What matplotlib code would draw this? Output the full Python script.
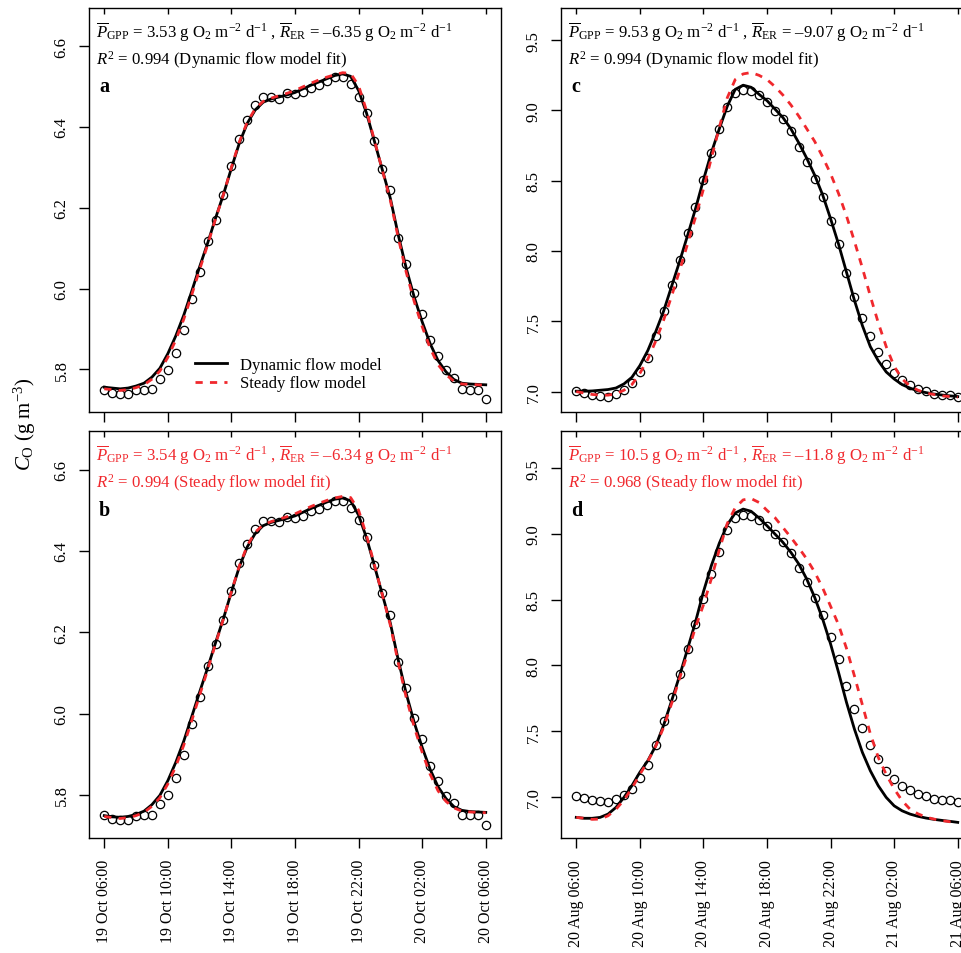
import numpy as np
import matplotlib
matplotlib.use("Agg")
import matplotlib.pyplot as plt
import matplotlib.ticker as ticker

plt.rcParams["font.family"] = "Liberation Serif"
plt.rcParams["mathtext.fontset"] = "custom"
plt.rcParams["mathtext.rm"] = "Liberation Serif"
plt.rcParams["mathtext.it"] = "Liberation Serif:italic"
plt.rcParams["mathtext.bf"] = "Liberation Serif:bold"

RED = "#f0282d"

# half-hourly samples, hours after 06:00 of the first day
hours = np.arange(49) * 0.5

tick_hours = [0, 4, 8, 12, 16, 20, 24]
oct_labels = ["19 Oct 06:00", "19 Oct 10:00", "19 Oct 14:00", "19 Oct 18:00",
              "19 Oct 22:00", "20 Oct 02:00", "20 Oct 06:00"]
aug_labels = ["20 Aug 06:00", "20 Aug 10:00", "20 Aug 14:00", "20 Aug 18:00",
              "20 Aug 22:00", "21 Aug 02:00", "21 Aug 06:00"]

# observed oxygen concentration, October (panels a, b)
obs_oct = [5.750, 5.741, 5.739, 5.739, 5.748, 5.750, 5.751, 5.777, 5.799, 5.841,
           5.898, 5.975, 6.041, 6.117, 6.170, 6.231, 6.302, 6.371, 6.418, 6.455,
           6.473, 6.474, 6.470, 6.484, 6.482, 6.486, 6.497, 6.503, 6.513, 6.523,
           6.523, 6.505, 6.475, 6.434, 6.366, 6.296, 6.243, 6.126, 6.062, 5.990,
           5.937, 5.872, 5.833, 5.798, 5.779, 5.751, 5.750, 5.750, 5.727]

# panel a: parameters from dynamic flow fit
dyn_a = [5.756, 5.754, 5.752, 5.754, 5.759, 5.766, 5.781, 5.803, 5.839, 5.883,
         5.934, 5.993, 6.054, 6.112, 6.174, 6.233, 6.298, 6.360, 6.409, 6.442,
         6.461, 6.469, 6.474, 6.479, 6.485, 6.494, 6.503, 6.511, 6.519, 6.527,
         6.531, 6.525, 6.490, 6.434, 6.364, 6.293, 6.223, 6.132, 6.050, 5.979,
         5.918, 5.864, 5.822, 5.794, 5.775, 5.766, 5.764, 5.763, 5.762]
std_a = [5.752, 5.750, 5.748, 5.750, 5.755, 5.762, 5.776, 5.796, 5.830, 5.873,
         5.924, 5.984, 6.047, 6.108, 6.172, 6.233, 6.300, 6.363, 6.412, 6.445,
         6.463, 6.471, 6.477, 6.483, 6.490, 6.499, 6.508, 6.516, 6.523, 6.529,
         6.534, 6.532, 6.502, 6.440, 6.366, 6.292, 6.218, 6.125, 6.040, 5.968,
         5.906, 5.853, 5.812, 5.787, 5.771, 5.764, 5.763, 5.762, 5.761]

# panel b: parameters from steady flow fit
dyn_b = [5.749, 5.746, 5.745, 5.747, 5.752, 5.760, 5.776, 5.799, 5.835, 5.880,
         5.932, 5.992, 6.053, 6.112, 6.174, 6.234, 6.299, 6.361, 6.410, 6.443,
         6.462, 6.470, 6.475, 6.480, 6.486, 6.495, 6.504, 6.512, 6.520, 6.527,
         6.530, 6.523, 6.488, 6.432, 6.363, 6.292, 6.222, 6.131, 6.049, 5.978,
         5.917, 5.863, 5.820, 5.791, 5.771, 5.762, 5.759, 5.758, 5.757]
std_b = [5.747, 5.744, 5.742, 5.744, 5.749, 5.757, 5.772, 5.793, 5.827, 5.870,
         5.922, 5.982, 6.045, 6.107, 6.171, 6.233, 6.300, 6.363, 6.413, 6.446,
         6.464, 6.472, 6.478, 6.484, 6.491, 6.500, 6.509, 6.517, 6.524, 6.530,
         6.534, 6.531, 6.500, 6.438, 6.365, 6.291, 6.217, 6.124, 6.039, 5.967,
         5.905, 5.851, 5.810, 5.784, 5.768, 5.760, 5.758, 5.757, 5.756]

# observed oxygen concentration, August (panels c, d)
obs_aug = [7.003, 6.989, 6.979, 6.967, 6.960, 6.981, 7.010, 7.062, 7.140, 7.240,
           7.396, 7.574, 7.759, 7.937, 8.127, 8.316, 8.506, 8.695, 8.866, 9.027,
           9.122, 9.146, 9.141, 9.108, 9.058, 8.999, 8.940, 8.854, 8.743, 8.632,
           8.513, 8.383, 8.214, 8.050, 7.844, 7.671, 7.522, 7.394, 7.285, 7.195,
           7.135, 7.085, 7.050, 7.021, 7.003, 6.984, 6.977, 6.974, 6.960]

# panel c: parameters from dynamic flow fit
dyn_c = [7.003, 7.003, 7.005, 7.010, 7.015, 7.026, 7.055, 7.102, 7.185, 7.292,
         7.427, 7.574, 7.750, 7.925, 8.110, 8.300, 8.506, 8.700, 8.870, 9.030,
         9.150, 9.180, 9.165, 9.115, 9.070, 9.010, 8.950, 8.870, 8.770, 8.660,
         8.540, 8.400, 8.230, 8.050, 7.850, 7.650, 7.470, 7.320, 7.220, 7.140,
         7.090, 7.050, 7.025, 7.005, 6.993, 6.983, 6.976, 6.970, 6.965]
std_c = [7.000, 6.990, 6.980, 6.975, 6.975, 6.985, 7.010, 7.050, 7.130, 7.230,
         7.360, 7.510, 7.680, 7.860, 8.050, 8.240, 8.440, 8.660, 8.880, 9.090,
         9.220, 9.260, 9.270, 9.250, 9.220, 9.170, 9.110, 9.040, 8.960, 8.870,
         8.780, 8.670, 8.550, 8.410, 8.250, 8.070, 7.880, 7.680, 7.490, 7.320,
         7.180, 7.090, 7.040, 7.010, 6.990, 6.980, 6.970, 6.965, 6.960]

# panel d: parameters from steady flow fit
dyn_d = [6.843, 6.836, 6.836, 6.843, 6.868, 6.919, 6.995, 7.084, 7.186, 7.274,
         7.388, 7.546, 7.731, 7.921, 8.124, 8.330, 8.560, 8.760, 8.930, 9.070,
         9.160, 9.190, 9.173, 9.122, 9.063, 9.000, 8.937, 8.861, 8.772, 8.657,
         8.518, 8.353, 8.163, 7.947, 7.719, 7.515, 7.338, 7.198, 7.084, 6.995,
         6.931, 6.893, 6.868, 6.851, 6.838, 6.828, 6.820, 6.813, 6.805]
std_d = [6.843, 6.836, 6.828, 6.830, 6.855, 6.905, 6.975, 7.065, 7.170, 7.270,
         7.385, 7.530, 7.710, 7.900, 8.090, 8.290, 8.460, 8.660, 8.880, 9.080,
         9.200, 9.260, 9.270, 9.240, 9.180, 9.125, 9.050, 8.975, 8.895, 8.810,
         8.710, 8.590, 8.450, 8.310, 8.130, 7.920, 7.700, 7.480, 7.300, 7.170,
         7.060, 6.970, 6.905, 6.870, 6.845, 6.830, 6.818, 6.810, 6.805]

header_a = [r"$\overline{P}_{\mathrm{GPP}}$ = 3.53 g O$_2$ m$^{-2}$ d$^{-1}$ , "
            r"$\overline{R}_{\mathrm{ER}}$ = –6.35 g O$_2$ m$^{-2}$ d$^{-1}$",
            r"$R^2$ = 0.994 (Dynamic flow model fit)"]
header_b = [r"$\overline{P}_{\mathrm{GPP}}$ = 3.54 g O$_2$ m$^{-2}$ d$^{-1}$ , "
            r"$\overline{R}_{\mathrm{ER}}$ = –6.34 g O$_2$ m$^{-2}$ d$^{-1}$",
            r"$R^2$ = 0.994 (Steady flow model fit)"]
header_c = [r"$\overline{P}_{\mathrm{GPP}}$ = 9.53 g O$_2$ m$^{-2}$ d$^{-1}$ , "
            r"$\overline{R}_{\mathrm{ER}}$ = –9.07 g O$_2$ m$^{-2}$ d$^{-1}$",
            r"$R^2$ = 0.994 (Dynamic flow model fit)"]
header_d = [r"$\overline{P}_{\mathrm{GPP}}$ = 10.5 g O$_2$ m$^{-2}$ d$^{-1}$ , "
            r"$\overline{R}_{\mathrm{ER}}$ = –11.8 g O$_2$ m$^{-2}$ d$^{-1}$",
            r"$R^2$ = 0.968 (Steady flow model fit)"]

W, H = 962, 954


def px_box(left, top, right, bottom):
    # pixel box -> figure fraction rect
    return [left / W, 1 - bottom / H, (right - left) / W, (bottom - top) / H]


def panel(fig, rect, obs, dyn, std, ylim, yticks, letter, header, header_color,
          xlabels=None, legend=False):
    ax = fig.add_axes(rect)
    ax.plot(hours, obs, linestyle="None", marker="o", markersize=6.0,
            markerfacecolor="none", markeredgecolor="black",
            markeredgewidth=0.9, zorder=2)
    ax.plot(hours, dyn, color="black", linewidth=2.0, zorder=3,
            label="Dynamic flow model")
    ax.plot(hours, std, color=RED, linewidth=2.0, dashes=(2.6, 2.6), zorder=4,
            label="Steady flow model")

    ax.set_xlim(-0.96, 24.96)
    ax.set_ylim(*ylim)
    ax.set_xticks(tick_hours)
    ax.set_yticks(yticks)
    ax.yaxis.set_major_formatter(ticker.FormatStrFormatter("%.1f"))

    for s in ax.spines.values():
        s.set_linewidth(1.0)

    ax.tick_params(axis="x", which="both", direction="out", length=7, width=1.0,
                   top=False, labelsize=11.5, pad=8)
    ax.tick_params(axis="y", direction="out", length=7, width=1.0,
                   labelsize=12, pad=7, labelrotation=90)
    for lab in ax.get_yticklabels():
        lab.set_verticalalignment("center")

    # inward ticks on the top edge
    sec = ax.secondary_xaxis("top")
    sec.set_xticks(tick_hours)
    sec.tick_params(direction="in", length=4.5, width=1.0, labeltop=False)
    sec.spines["top"].set_visible(False)

    if xlabels is None:
        ax.set_xticklabels([])
    else:
        ax.set_xticklabels(xlabels, rotation=90, va="top", ha="center")

    ax.text(0.017, 0.929, header[0], transform=ax.transAxes, fontsize=12.1,
            color=header_color, va="baseline", ha="left")
    ax.text(0.017, 0.863, header[1], transform=ax.transAxes, fontsize=12.1,
            color=header_color, va="baseline", ha="left")
    ax.text(0.024, 0.794, letter, transform=ax.transAxes, fontsize=14.5,
            fontweight="bold", va="baseline", ha="left")

    if legend:
        ax.legend(loc="upper left", bbox_to_anchor=(0.257, 0.137),
                  frameon=False, fontsize=12, handlelength=1.9,
                  handletextpad=0.8, labelspacing=0.15, borderpad=0,
                  borderaxespad=0)
    return ax


fig = plt.figure(figsize=(W / 100, H / 100), dpi=100)

ylim_oct = (5.694, 6.694)
yt_oct = [5.8, 6.0, 6.2, 6.4, 6.6]
yt_aug = [7.0, 7.5, 8.0, 8.5, 9.0, 9.5]

panel(fig, px_box(89, 9, 501, 413.3), obs_oct, dyn_a, std_a, ylim_oct, yt_oct,
      "a", header_a, "black", legend=True)
panel(fig, px_box(89, 432.3, 501, 839), obs_oct, dyn_b, std_b, ylim_oct, yt_oct,
      "b", header_b, RED, xlabels=oct_labels)
panel(fig, px_box(561, 9, 973, 413.3), obs_aug, dyn_c, std_c, (6.853, 9.729),
      yt_aug, "c", header_c, "black")
panel(fig, px_box(561, 432.3, 973, 839), obs_aug, dyn_d, std_d, (6.686, 9.782),
      yt_aug, "d", header_d, RED, xlabels=aug_labels)

fig.text(25 / W, 1 - 424 / H, r"$C_{\mathrm{O}}$ (g m$^{-3}$)", rotation=90,
         fontsize=15, ha="center", va="center")

fig.savefig("out.png", dpi=100)
